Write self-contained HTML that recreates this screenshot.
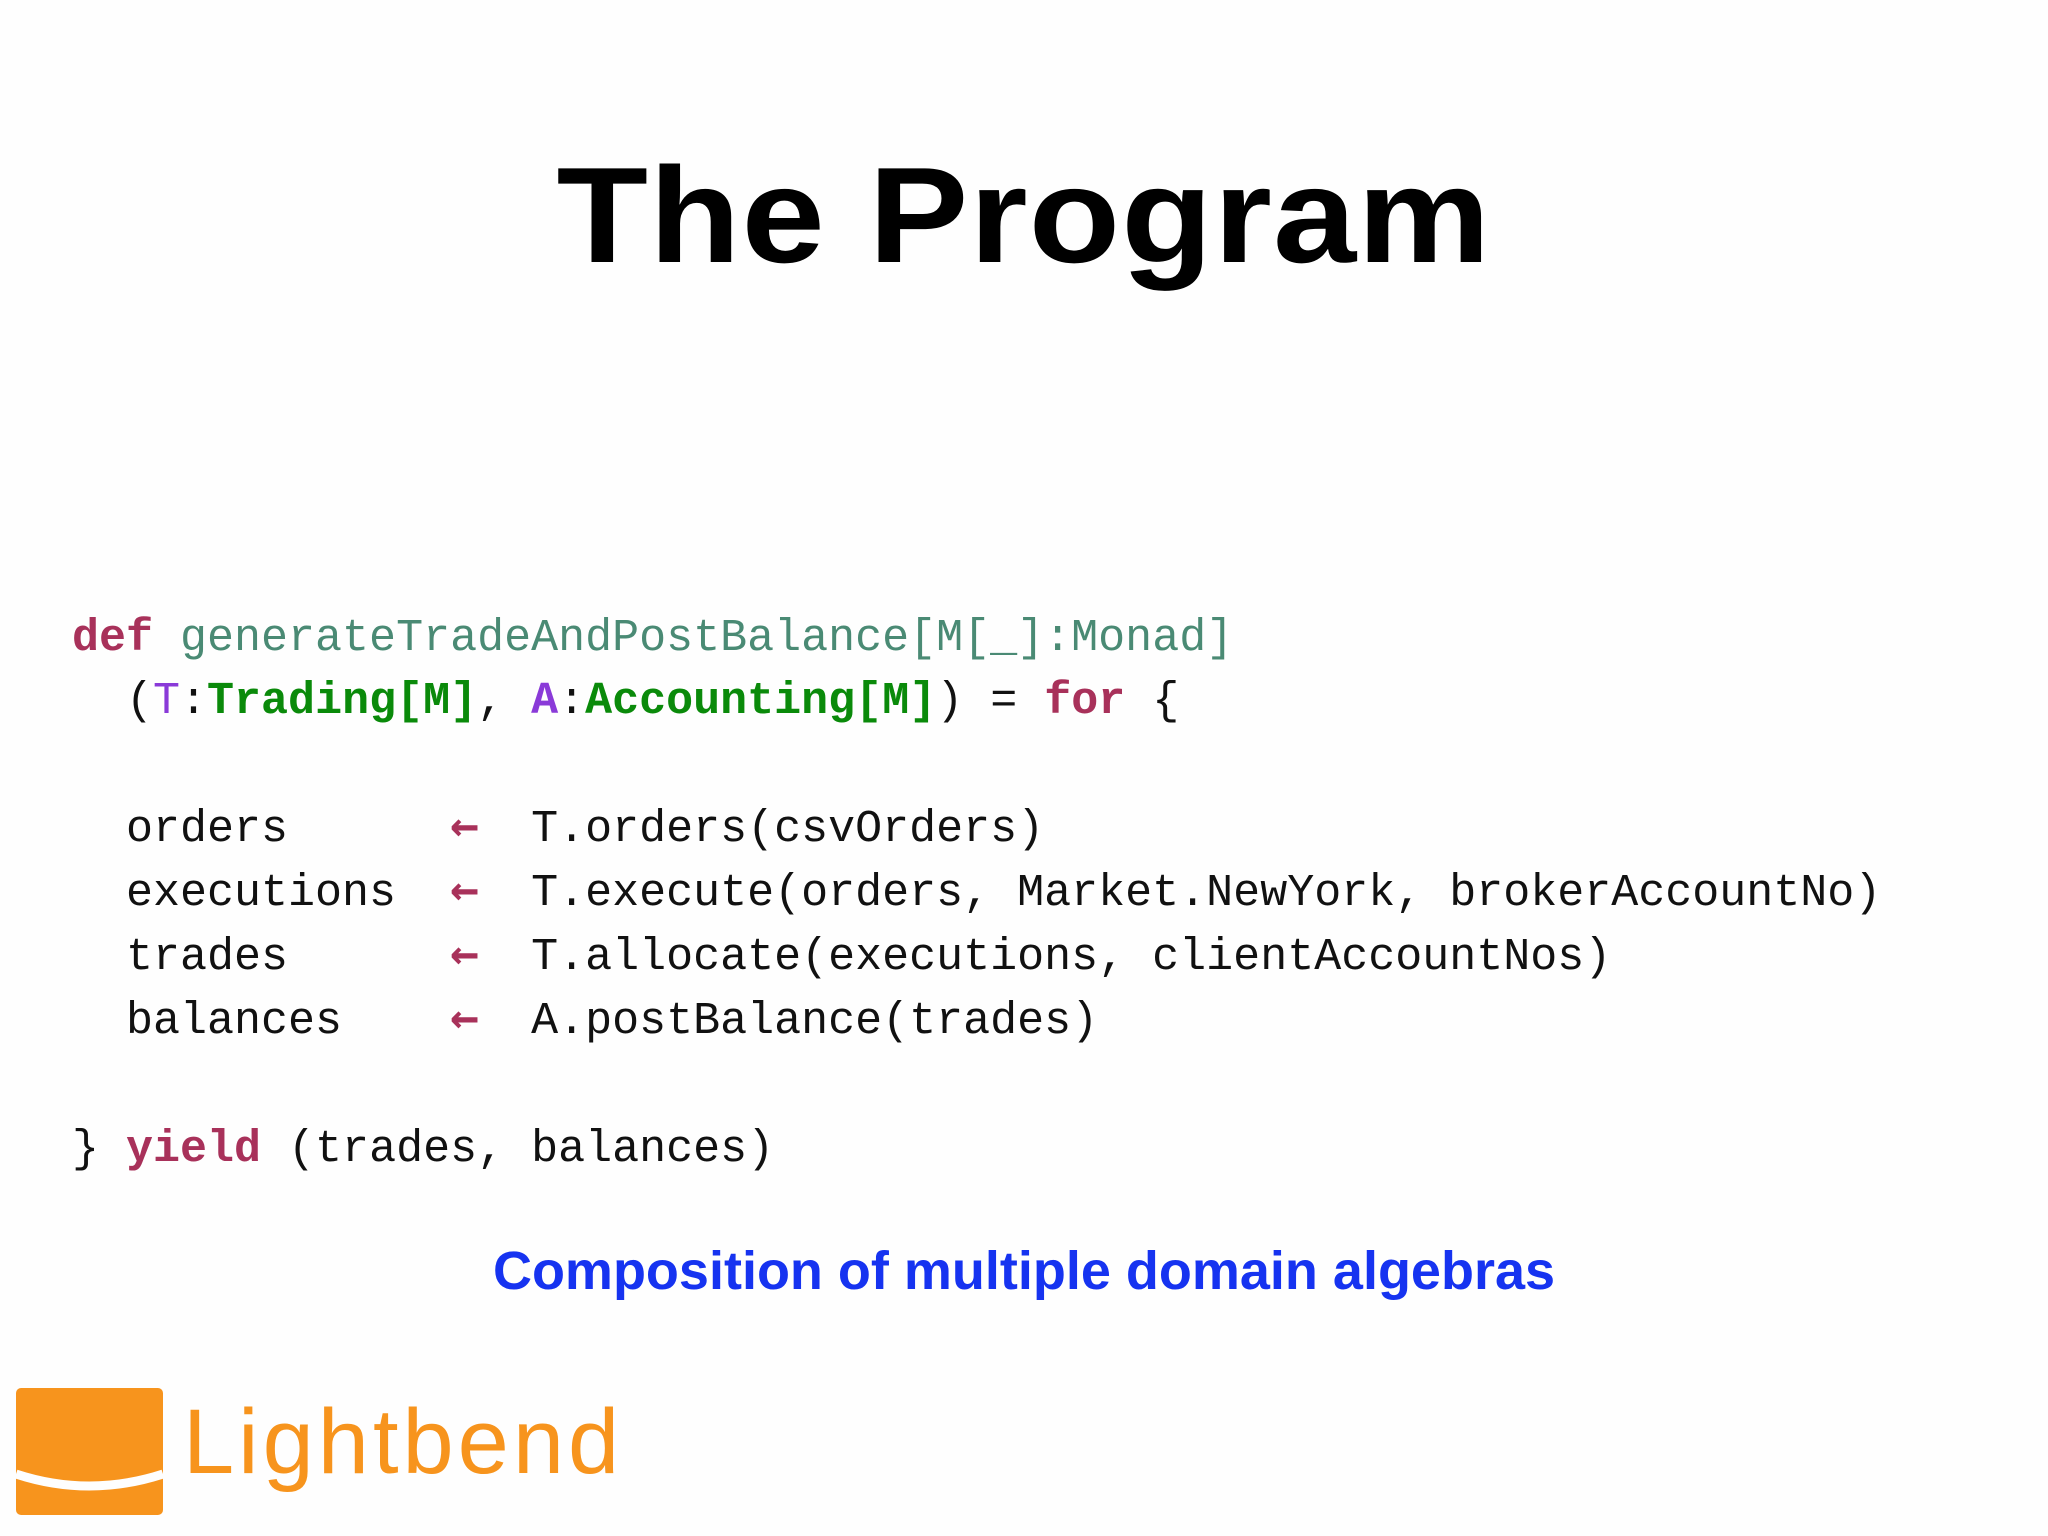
<!DOCTYPE html>
<html><head><style>
body{margin:0;width:2048px;height:1536px;background:#fefefe;position:relative;overflow:hidden}
.t{position:absolute;left:0;width:2048px;top:137px;text-align:center;font:bold 136px "Liberation Sans",sans-serif;color:#000;letter-spacing:1px;transform:scaleX(1.1)}
.l{position:absolute;left:72px;height:64px;line-height:64px;font:45px "Liberation Mono",monospace;white-space:pre;color:#111}
.k{color:#a8315a;font-weight:bold}.f{color:#4a8a74}.g{color:#0a8a0a;font-weight:bold}.p{color:#8a3ad8}
.a{color:#a8315a;font-weight:bold;font-family:"DejaVu Sans Mono",monospace;font-size:48px;display:inline-block;width:27px}
.c{position:absolute;left:0;width:2048px;text-align:center;top:1240px;font:bold 54px "Liberation Sans",sans-serif;color:#1633f0}
.box{position:absolute;left:16px;top:1388px;width:147px;height:127px;background:#f7941d;border-radius:5px;overflow:hidden}
.lb{position:absolute;left:183px;top:1390px;font:92px "Liberation Sans",sans-serif;color:#f7941d;letter-spacing:4px}
</style></head><body>
<div class="t">The Program</div>
<div class="l" style="top:613px"><span class="k">def</span> <span class="f">generateTradeAndPostBalance[M[_]:Monad]</span></div>
<div class="l" style="top:676px">  (<span class="p">T</span>:<span class="g">Trading[M]</span>, <span class="p" style="font-weight:bold">A</span>:<span class="g">Accounting[M]</span>) = <span class="k">for</span> {</div>
<div class="l" style="top:797px">  orders      <span class="a">←</span>  T.orders(csvOrders)</div>
<div class="l" style="top:861px">  executions  <span class="a">←</span>  T.execute(orders, Market.NewYork, brokerAccountNo)</div>
<div class="l" style="top:925px">  trades      <span class="a">←</span>  T.allocate(executions, clientAccountNos)</div>
<div class="l" style="top:989px">  balances    <span class="a">←</span>  A.postBalance(trades)</div>
<div class="l" style="top:1124px">} <span class="k">yield</span> (trades, balances)</div>
<div class="c">Composition of multiple domain algebras</div>
<div class="box"><svg width="147" height="127" style="position:absolute;left:0;top:0"><path d="M0 86 Q73 110 147 86" stroke="#fefefe" stroke-width="9" fill="none"/></svg></div>
<div class="lb">Lightbend</div>
</body></html>
